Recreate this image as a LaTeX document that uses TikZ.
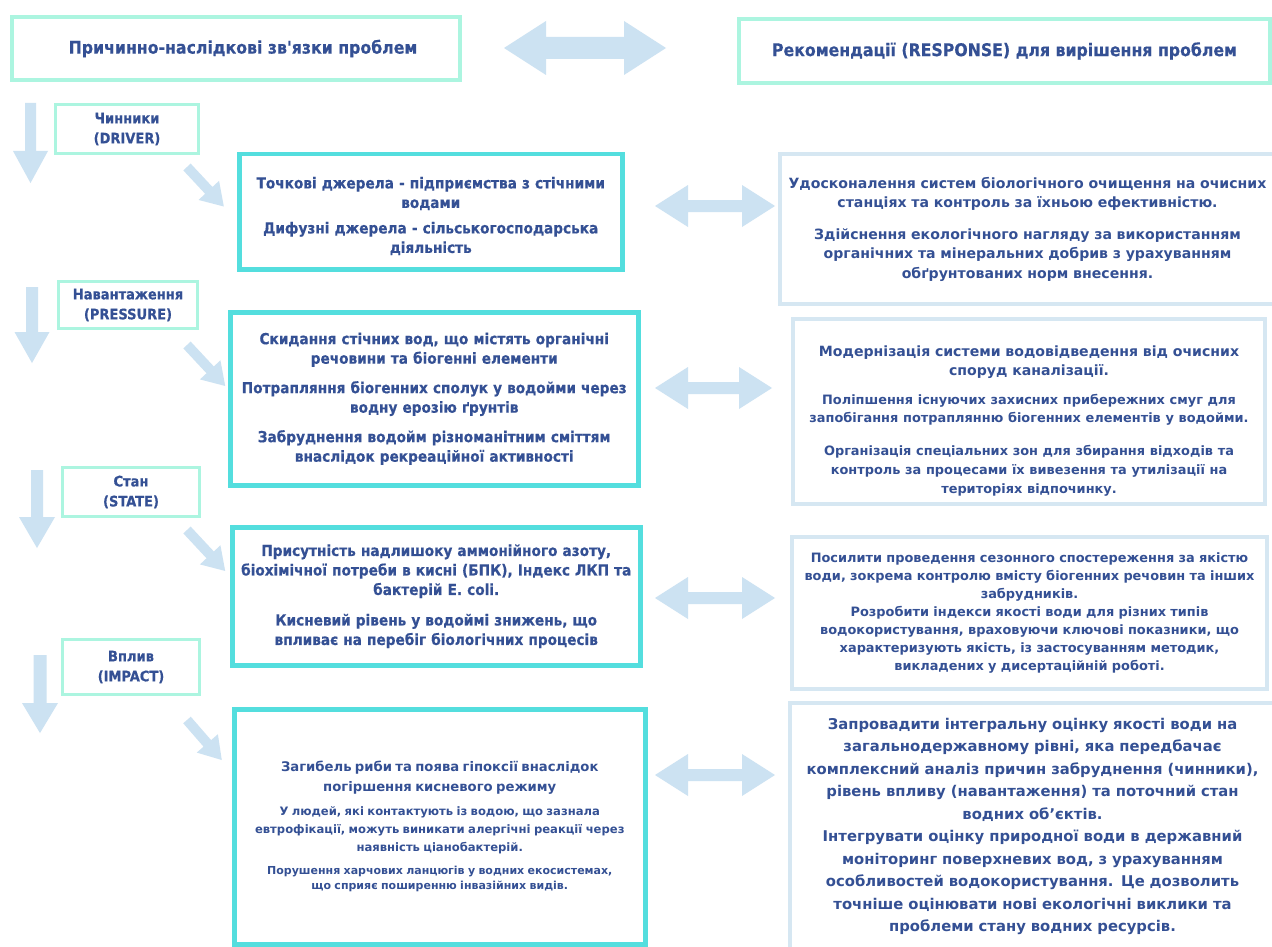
\documentclass[tikz,border=0pt]{standalone}
\usepackage{fontspec}
\setmainfont{DejaVu Sans}
\newfontfamily\cfont{DejaVu Sans Condensed}[BoldFeatures={FakeBold=0.4}]
\usetikzlibrary{calc}
\definecolor{txt}{RGB}{52,80,148}
\definecolor{mint}{RGB}{172,245,224}
\definecolor{turq}{RGB}{84,222,222}
\definecolor{pale}{RGB}{214,231,242}
\definecolor{arr}{RGB}{204,226,242}
\newcommand\fs[2]{\fontsize{#1}{#2}\selectfont}
\tikzset{
  pics/sarr/.style n args={4}{code={\fill[arr] (0,-#2) -- ({#1-#4},-#2) -- ({#1-#4},-#3) -- (#1,0) -- ({#1-#4},#3) -- ({#1-#4},#2) -- (0,#2) -- cycle;}},
  pics/darr/.style n args={4}{code={\fill[arr] (0,0) -- (#4,-#3) -- (#4,-#2) -- ({#1-#4},-#2) -- ({#1-#4},-#3) -- (#1,0) -- ({#1-#4},#3) -- ({#1-#4},#2) -- (#4,#2) -- (#4,#3) -- cycle;}},
  box/.style={anchor=north west, inner sep=0pt, align=center, text=txt},
  hdr/.style={box, draw=mint, line width=4pt, font=\cfont\bfseries\fs{17.5}{20}},
  lbl/.style={box, draw=mint, line width=3pt, font=\cfont\bfseries\fs{14.5}{20}},
  mid/.style={box, draw=turq, line width=4.5pt, font=\cfont\bfseries\fs{15.2}{19.5}},
  rgt/.style={box, draw=pale, line width=4pt, font=\bfseries\fs{14.1}{19.5}},
}
\begin{document}
\begin{tikzpicture}[x=1pt,y=-1pt]
\useasboundingbox[fill=white] (0,0) rectangle (1272,947);

% header
\node[hdr, minimum width=448pt, minimum height=63pt] (hl) at (10,15) {\hspace*{14pt}Причинно-наслідкові зв'язки проблем};
\node[hdr, minimum width=531pt, minimum height=64pt] (hr) at (737,17) {Рекомендації (RESPONSE) для вирішення проблем};
\pic at (504,48) {darr={162}{11}{27}{42}};

% labels
\node[lbl, minimum width=143pt, minimum height=49pt] (l1) at (54,103) {Чинники\\(DRIVER)};
\node[lbl, minimum width=139pt, minimum height=47pt] (l2) at (57,280) {Навантаження\\(PRESSURE)};
\node[lbl, minimum width=137pt, minimum height=49pt] (l3) at (61,466) {Стан\\(STATE)};
\node[lbl, minimum width=137pt, minimum height=55pt] (l4) at (61,638) {Вплив\\(IMPACT)};

% down arrows
\pic[rotate=-90] at (30.5,103) {sarr={80}{5.5}{17.5}{32}};
\pic[rotate=-90] at (32,287) {sarr={76}{6}{17.5}{31}};
\pic[rotate=-90] at (37,470) {sarr={78}{6}{18}{31}};
\pic[rotate=-90] at (40,655) {sarr={78}{6.5}{18}{30}};

% diagonal arrows
\pic[rotate=-47] at (187,167) {sarr={54}{5}{14}{22}};
\pic[rotate=-47] at (187,345) {sarr={56}{5}{14}{22}};
\pic[rotate=-47] at (187,530) {sarr={56}{5}{14}{22}};
\pic[rotate=-49] at (187,720) {sarr={53}{5}{14}{22}};

% middle boxes
\node[mid, minimum width=383pt, minimum height=115pt, text width=381pt] (m1) at (237,152) {%
\rule{0pt}{20pt}Точкові джерела - підприємства з стічними\\ водами\par\vspace{6pt}
Дифузні джерела - сільськогосподарська\\ діяльність};
\node[mid, minimum width=408pt, minimum height=173pt, text width=406pt] (m2) at (228,310) {%
Скидання стічних вод, що містять органічні\\ речовини та біогенні елементи\par\vspace{10pt}
Потрапляння біогенних сполук у водойми через\\ водну ерозію ґрунтів\par\vspace{10pt}
Забруднення водойм різноманітним сміттям\\ внаслідок рекреаційної активності};
\node[mid, minimum width=408pt, minimum height=138pt, text width=406pt] (m3) at (230,525) {%
Присутність надлишоку аммонійного азоту,\\ біохімічної потреби в кисні (БПК), Індекс ЛКП та\\ бактерій E. coli.\par\vspace{11pt}
Кисневий рівень у водоймі знижень, що\\ впливає на перебіг біологічних процесів};
\node[mid, minimum width=411pt, minimum height=235pt, text width=407pt, font=\bfseries] (m4) at (232,707) {%
{\fs{13.2}{20}Загибель риби та поява гіпоксії внаслідок\\ погіршення кисневого режиму\par}\vspace{6pt}
{\fs{11.6}{18}У людей, які контактують із водою, що зазнала\\ евтрофікації, можуть виникати алергічні реакції через\\ наявність ціанобактерій.\par}\vspace{8pt}
{\fs{11}{15}Порушення харчових ланцюгів у водних екосистемах,\\ що сприяє поширенню інвазійних видів.\par}};

% middle double arrows
\pic at (655,206) {darr={120}{6}{21}{33}};
\pic at (655,388) {darr={117}{6}{21}{33}};
\pic at (655,598) {darr={120}{6}{21}{33}};
\pic at (655,775) {darr={120}{6}{21}{33}};

% right boxes
\node[rgt, minimum width=495pt, minimum height=150pt, text width=492pt] (r1) at (778,152) {%
Удосконалення систем біологічного очищення на очисних\\ станціях та контроль за їхньою ефективністю.\par\vspace{12pt}
Здійснення екологічного нагляду за використанням\\ органічних та мінеральних добрив з урахуванням\\ обґрунтованих норм внесення.};
\node[rgt, minimum width=472pt, minimum height=185pt, text width=470pt] (r2) at (791,317) {%
\rule{0pt}{30pt}Модернізація системи водовідведення від очисних\\ споруд каналізації.\par\vspace{11pt}
{\fs{12.9}{18}Поліпшення існуючих захисних прибережних смуг для\\ запобігання потраплянню біогенних елементів у водойми.\par}\vspace{14pt}
{\fs{12.9}{19}Організація спеціальних зон для збирання відходів та\\ контроль за процесами їх вивезення та утилізації на\\ територіях відпочинку.\par}};
\node[rgt, minimum width=475pt, minimum height=152pt, text width=473pt, font=\bfseries\fs{12.9}{18}] (r3) at (790,535) {%
Посилити проведення сезонного спостереження за якістю\\ води, зокрема контролю вмісту біогенних речовин та інших\\ забрудників.\\ Розробити індекси якості води для різних типів\\ водокористування, враховуючи ключові показники, що\\ характеризують якість, із застосуванням методик,\\ викладених у дисертаційній роботі.};
\node[rgt, minimum width=485pt, minimum height=247pt, text width=482pt, font=\bfseries\fs{14.8}{22.5}] (r4) at (788,701) {%
Запровадити інтегральну оцінку якості води на\\ загальнодержавному рівні, яка передбачає\\ комплексний аналіз причин забруднення (чинники),\\ рівень впливу (навантаження) та поточний стан\\ водних об’єктів.\\ Інтегрувати оцінку природної води в державний\\ моніторинг поверхневих вод, з урахуванням\\ особливостей водокористування. Це дозволить\\ точніше оцінювати нові екологічні виклики та\\ проблеми стану водних ресурсів.};
\end{tikzpicture}
\end{document}
